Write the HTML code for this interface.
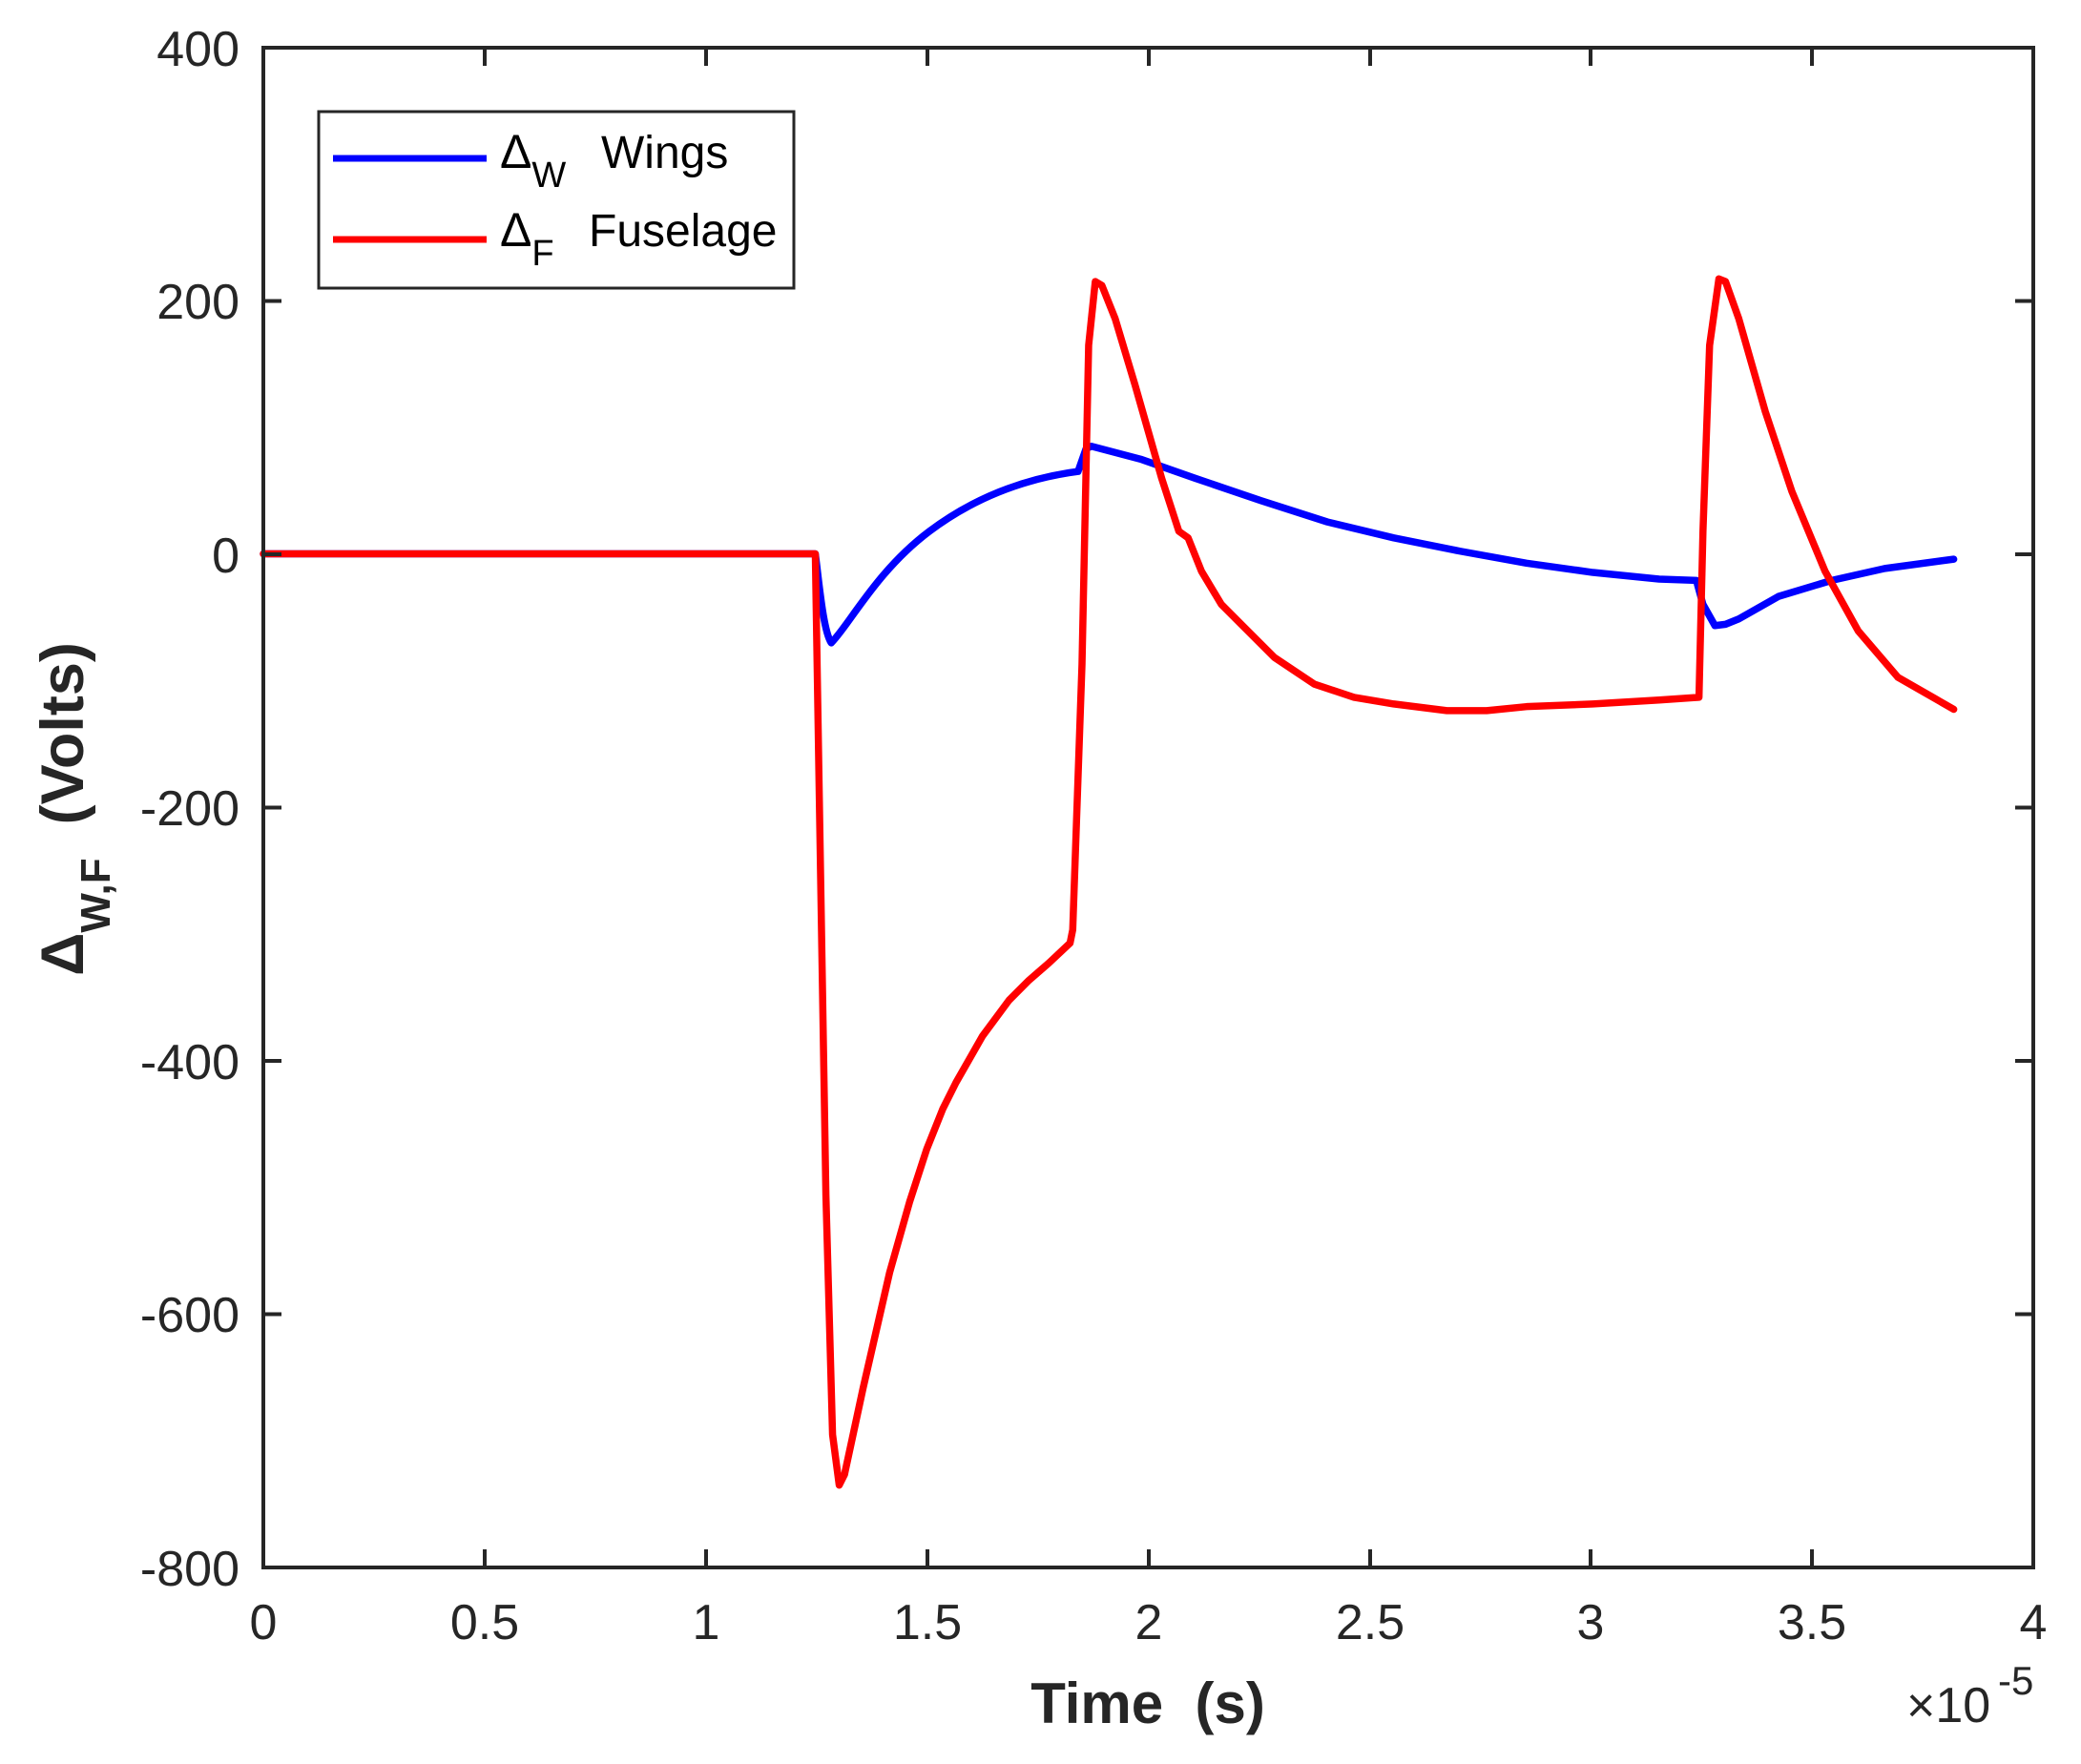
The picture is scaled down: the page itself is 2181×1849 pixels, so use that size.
<!DOCTYPE html>
<html><head><meta charset="utf-8"><style>
html,body{margin:0;padding:0;background:#fff}
svg{display:block}
text{font-family:"Liberation Sans",Arial,sans-serif;fill:#262626}
</style></head><body>
<svg width="2181" height="1849" viewBox="0 0 2181 1849" xmlns="http://www.w3.org/2000/svg">
<rect width="2181" height="1849" fill="#fff"/>
<g transform="translate(276,50) scale(1.3906,1.3925) translate(-198,-36)" fill="none" stroke-linejoin="round" stroke-linecap="round">
<path vector-effect="non-scaling-stroke" stroke="#0000ff" stroke-width="7.5" d="M198,417 L614,417 C617,440 620,475 626,484 C640,470 660,430 700,400 C740,370 780,360 805,356 L812,355 L818,338 L822,336 L860,346 L900,360 L950,377 L1000,393 L1050,405 L1100,415 L1150,424 L1200,431 L1250,436 L1278,437 L1283,455 L1292,471 L1300,470 L1310,466 L1340,449 L1380,437 L1420,428 L1472,421"/>
<path vector-effect="non-scaling-stroke" stroke="#ff0000" stroke-width="7.5" d="M198,417 L614,417 L617,600 L622,900 L627,1080 L632,1118 L636,1110 L650,1045 L670,958 L685,905 L698,865 L710,835 L720,815 L740,780 L760,753 L775,738 L790,725 L806,710 L808,700 L815,500 L820,260 L825,212 L830,215 L840,240 L855,290 L865,325 L875,360 L888,400 L895,405 L905,430 L920,455 L935,470 L960,495 L990,515 L1020,525 L1050,530 L1090,535 L1120,535 L1150,532 L1200,530 L1250,527 L1280,525 L1283,400 L1288,260 L1295,210 L1300,212 L1310,240 L1330,310 L1350,370 L1375,430 L1400,475 L1430,510 L1472,534"/>
</g>
<rect x="276" y="50" width="1855" height="1593" fill="none" stroke="#262626" stroke-width="4"/>
<g stroke="#262626" stroke-width="4">
<line x1="508" y1="1643" x2="508" y2="1624"/><line x1="740" y1="1643" x2="740" y2="1624"/><line x1="972" y1="1643" x2="972" y2="1624"/><line x1="1204" y1="1643" x2="1204" y2="1624"/><line x1="1436" y1="1643" x2="1436" y2="1624"/><line x1="1667" y1="1643" x2="1667" y2="1624"/><line x1="1899" y1="1643" x2="1899" y2="1624"/>
<line x1="508" y1="50" x2="508" y2="69"/><line x1="740" y1="50" x2="740" y2="69"/><line x1="972" y1="50" x2="972" y2="69"/><line x1="1204" y1="50" x2="1204" y2="69"/><line x1="1436" y1="50" x2="1436" y2="69"/><line x1="1667" y1="50" x2="1667" y2="69"/><line x1="1899" y1="50" x2="1899" y2="69"/>
<line x1="276" y1="315.5" x2="295" y2="315.5"/><line x1="276" y1="581" x2="295" y2="581"/><line x1="276" y1="846.5" x2="295" y2="846.5"/><line x1="276" y1="1112" x2="295" y2="1112"/><line x1="276" y1="1377.5" x2="295" y2="1377.5"/>
<line x1="2131" y1="315.5" x2="2112" y2="315.5"/><line x1="2131" y1="581" x2="2112" y2="581"/><line x1="2131" y1="846.5" x2="2112" y2="846.5"/><line x1="2131" y1="1112" x2="2112" y2="1112"/><line x1="2131" y1="1377.5" x2="2112" y2="1377.5"/>
</g>
<g font-size="52" text-anchor="end">
<text x="251" y="69">400</text><text x="251" y="334">200</text><text x="251" y="600">0</text><text x="251" y="865">-200</text><text x="251" y="1131">-400</text><text x="251" y="1396">-600</text><text x="251" y="1662">-800</text>
</g>
<g font-size="52" text-anchor="middle">
<text x="276" y="1718">0</text><text x="508" y="1718">0.5</text><text x="740" y="1718">1</text><text x="972" y="1718">1.5</text><text x="1204" y="1718">2</text><text x="1436" y="1718">2.5</text><text x="1667" y="1718">3</text><text x="1899" y="1718">3.5</text><text x="2131" y="1718">4</text>
</g>
<text x="1998" y="1805" font-size="52">×10</text><text x="2094" y="1776" font-size="42">-5</text>
<text x="1203" y="1806" font-size="60" font-weight="bold" text-anchor="middle" xml:space="preserve">Time  (s)</text>
<g transform="translate(87,848) rotate(-90)">
<text x="0" y="0" font-size="63" font-weight="bold" text-anchor="middle" xml:space="preserve">Δ<tspan font-size="44" dy="28">W,F</tspan><tspan dy="-28">  (Volts)</tspan></text>
</g>
<rect x="334" y="117" width="498" height="185" fill="#fff" stroke="#262626" stroke-width="3"/>
<line x1="349" y1="166" x2="510" y2="166" stroke="#0000ff" stroke-width="7"/>
<line x1="349" y1="251" x2="510" y2="251" stroke="#ff0000" stroke-width="7"/>
<text x="524" y="176" font-size="50" style="fill:#000">Δ<tspan font-size="38" dy="20">W</tspan></text>
<text x="630" y="176" font-size="48" style="fill:#000">Wings</text>
<text x="524" y="258" font-size="50" style="fill:#000">Δ<tspan font-size="38" dy="20">F</tspan></text>
<text x="617" y="258" font-size="48" style="fill:#000">Fuselage</text>
</svg>
</body></html>
